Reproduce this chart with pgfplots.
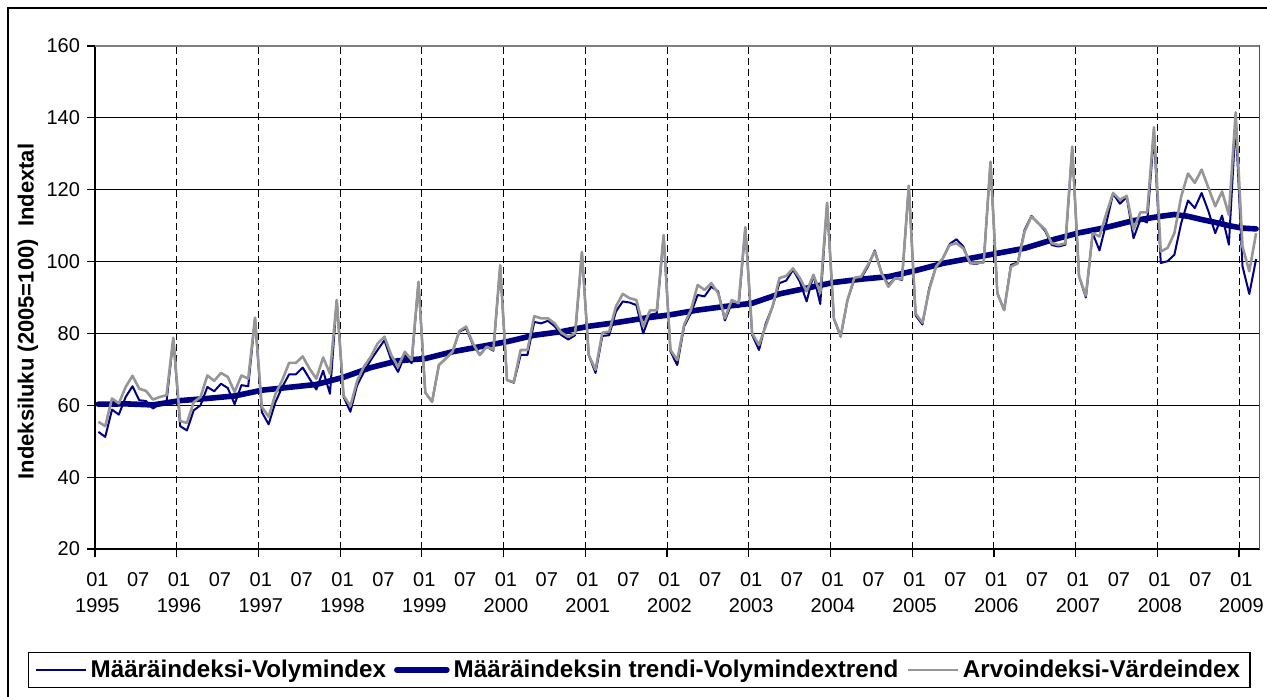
\documentclass[border=0pt]{standalone}
\usepackage{fontspec}
\setmainfont{Liberation Sans}
\usepackage{pgfplots}
\usepackage{pgfplotstable}
\pgfplotsset{compat=1.18}
\definecolor{navy}{RGB}{0,0,128}
\definecolor{greyline}{RGB}{150,150,150}
\definecolor{frameg}{RGB}{128,128,128}

\pgfplotstableread{
m V W
0 52.6 55.4
1 51.2 54.2
2 58.8 61.9
3 57.4 60.5
4 62.3 65.1
5 65.3 68.2
6 61.4 64.6
7 61.2 64.0
8 59.1 61.6
9 60.3 62.3
10 60.9 62.8
11 78.6 78.8
12 54.2 55.6
13 53.0 55.1
14 58.6 60.9
15 60.0 62.3
16 65.1 68.3
17 63.9 66.8
18 66.0 69.0
19 64.8 67.9
20 60.3 63.7
21 65.6 68.3
22 65.3 67.4
23 84.1 84.4
24 58.1 59.5
25 54.7 56.8
26 60.9 63.2
27 65.1 67.0
28 68.6 71.8
29 68.6 71.8
30 70.5 73.6
31 67.4 70.2
32 64.4 67.4
33 69.6 73.3
34 63.2 68.8
35 89.2 89.3
36 62.4 62.7
37 58.2 59.8
38 65.6 66.8
39 69.3 70.8
40 72.6 73.5
41 75.4 77.2
42 78.1 79.1
43 72.6 74.0
44 69.3 70.7
45 74.0 74.9
46 71.7 72.6
47 94.1 94.4
48 63.5 63.5
49 61.0 61.0
50 71.2 71.2
51 73.0 73.0
52 74.9 74.9
53 80.5 80.7
54 81.4 81.9
55 76.8 77.2
56 74.0 74.0
57 76.3 76.3
58 75.2 75.5
59 98.6 99.0
60 67.0 67.0
61 66.3 66.5
62 74.0 75.4
63 74.0 75.4
64 83.2 84.8
65 82.8 84.2
66 83.5 84.2
67 82.0 82.8
68 79.5 80.2
69 78.3 79.1
70 79.5 80.0
71 102.3 102.7
72 74.0 74.0
73 69.0 69.9
74 79.3 80.2
75 79.5 80.5
76 86.1 87.5
77 88.9 91.0
78 88.6 89.8
79 87.9 89.3
80 80.0 81.9
81 85.2 86.4
82 85.6 86.4
83 107.1 107.4
84 75.0 75.4
85 71.2 72.6
86 81.9 82.4
87 85.6 86.5
88 90.7 93.5
89 90.3 92.1
90 93.0 94.0
91 91.7 91.2
92 83.6 84.2
93 88.4 89.3
94 87.3 88.4
95 109.3 109.6
96 79.6 80.0
97 75.4 76.8
98 82.8 82.1
99 87.5 87.5
100 94.0 95.4
101 94.7 96.0
102 97.7 98.1
103 94.4 95.4
104 88.9 91.7
105 96.3 96.3
106 88.2 91.2
107 116.2 116.4
108 84.0 84.2
109 79.1 79.3
110 89.3 89.3
111 95.0 95.5
112 95.4 95.8
113 98.6 99.1
114 103.1 102.8
115 96.9 96.8
116 93.5 93.0
117 95.4 95.4
118 94.9 95.1
119 120.9 121.1
120 85.0 85.5
121 82.5 83.0
122 92.6 92.1
123 98.6 98.6
124 100.9 100.9
125 104.9 104.6
126 106.2 105.1
127 104.2 103.7
128 99.5 99.7
129 99.4 99.7
130 100.0 99.7
131 127.6 127.8
132 91.2 91.2
133 86.5 86.5
134 99.1 98.6
135 99.7 99.5
136 108.8 108.3
137 112.7 112.5
138 110.7 110.7
139 108.6 109.0
140 104.6 105.1
141 104.2 104.6
142 104.7 105.1
143 131.3 132.0
144 95.9 95.9
145 90.0 90.5
146 107.9 107.9
147 103.1 107.0
148 110.7 113.3
149 118.9 119.1
150 116.1 117.2
151 118.0 118.3
152 106.5 108.9
153 111.7 113.7
154 110.9 113.7
155 135.3 137.4
156 99.6 102.8
157 100.1 103.8
158 101.9 107.9
159 110.7 118.1
160 117.0 124.5
161 114.9 121.9
162 119.1 125.6
163 114.0 120.5
164 107.9 115.4
165 112.8 119.5
166 104.7 113.0
167 138.6 141.5
168 98.7 104.2
169 91.0 97.3
170 100.7 107.9
}\monthly

\pgfplotstableread{
m T
0 60.3
4 60.4
8 60.1
12 61.3
16 61.9
20 62.6
24 64.2
28 65.0
32 65.8
36 67.8
40 70.5
44 72.4
48 73.0
52 74.9
56 76.3
60 77.7
64 79.5
68 80.5
72 82.0
76 83.0
80 84.2
84 85.2
88 86.5
92 87.5
96 88.4
100 91.0
104 92.6
108 94.2
112 95.1
116 95.8
120 97.5
124 99.5
128 100.9
132 102.3
136 103.7
140 106.0
144 108.0
148 109.5
152 111.4
156 112.6
158 113.1
160 112.6
162 111.7
164 110.9
166 110.0
168 109.3
170 109.1
}\trend

\begin{document}
\begin{tikzpicture}
\begin{axis}[
  name=ax,
  at={(0,0)}, anchor=south west,
  scale only axis,
  width=582.25pt, height=251.5pt,
  xmin=-0.5, xmax=170.5,
  ymin=20, ymax=160,
  ytick={20,40,...,160},
  xtick={-0.5,11.5,23.5,35.5,47.5,59.5,71.5,83.5,95.5,107.5,119.5,131.5,143.5,155.5,167.5},
  xticklabels={},
  extra x ticks={-0.15,5.85,11.85,17.85,23.85,29.85,35.85,41.85,47.85,53.85,59.85,65.85,71.85,77.85,83.85,89.85,95.85,101.85,107.85,113.85,119.85,125.85,131.85,137.85,143.85,149.85,155.85,161.85,167.85},
  extra x tick labels={{01\\1995},07,{01\\1996},07,{01\\1997},07,{01\\1998},07,{01\\1999},07,{01\\2000},07,{01\\2001},07,{01\\2002},07,{01\\2003},07,{01\\2004},07,{01\\2005},07,{01\\2006},07,{01\\2007},07,{01\\2008},07,{01\\2009}},
  extra x tick style={grid=none, major tick length=0pt},
  xticklabel style={align=center, font=\fontsize{10}{13}\selectfont, yshift=-8pt},
  yticklabel style={font=\fontsize{10}{12}\selectfont},
  /pgf/number format/assume math mode=true,
  tick align=outside,
  major tick length=4pt,
  tick pos=left,
  tick style={black, line width=0.6pt},
  xmajorgrids, ymajorgrids,
  y grid style={black, line width=0.5pt},
  x grid style={black, line width=0.5pt, dash pattern=on 3.5pt off 2pt},
  axis line style={black, line width=0.8pt},
  ylabel={Indeksiluku (2005=100)\ \ Indextal},
  ylabel style={at={(rel axis cs:-0.0575,0.472)}, anchor=center, rotate=0, font=\bfseries\fontsize{11}{13}\selectfont},
  legend columns=3,
  legend style={at={(rel axis cs:-0.0575,-0.2048)}, anchor=north west,
    draw=black, line width=0.6pt, inner xsep=3pt, inner ysep=1.5pt,
    font=\bfseries\fontsize{12.1}{14}\selectfont,
    nodes={inner sep=2pt},
    /tikz/every even column/.append style={column sep=2pt}},
  legend image code/.code={\draw[#1] (0pt,0pt) -- (25pt,0pt);},
  legend cell align=left,
]
\addplot[navy, line width=1pt, line join=round] table[x=m, y=V] {\monthly};
\addlegendentry{Määräindeksi-Volymindex}
\addplot[navy, line width=2.8pt, line join=round, line cap=round] table[x=m, y=T] {\trend};
\addlegendentry{Määräindeksin trendi-Volymindextrend}
\addplot[greyline, line width=1.3pt, line join=round] table[x=m, y=W] {\monthly};
\addlegendentry{Arvoindeksi-Värdeindex}
\draw[frameg, line width=1pt] (rel axis cs:0,1) -- (rel axis cs:1,1) -- (rel axis cs:1,0);
\end{axis}
\draw[black, line width=0.6pt] (-43.5pt,-90pt) -- (-43.5pt,270.5pt) -- (600pt,270.5pt);
\pgfresetboundingbox
\useasboundingbox (-47.5pt,-73.5pt) rectangle (586pt,274.5pt);
\end{tikzpicture}
\end{document}
